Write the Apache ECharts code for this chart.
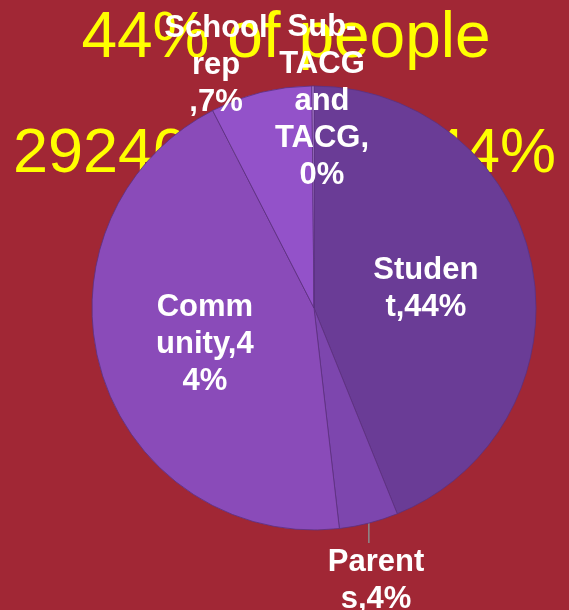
<!DOCTYPE html>
<html>
<head>
<meta charset="utf-8">
<script src="https://cdn.jsdelivr.net/npm/echarts@6/dist/echarts.min.js"></script>
<style>
  html, body { margin: 0; padding: 0; background: #a12735; }
  .main { width: 569px; height: 610px; }
</style>
</head>
<body>
<div class="main"></div>
<script>
// slice data (percent of respondents)
var names = ['Student', 'Parents', 'Community', 'School rep', 'Sub-TACG and TACG'];
var values = [43.9, 4.3, 44.3, 7.4, 0.15];
var colors = ['#6a3c96', '#7d46ae', '#8a4bb9', '#9352c9', '#b48ad8'];
// label texts as wrapped in the original
var labelTexts = ['Studen\nt,44%', 'Parent\ns,4%', 'Comm\nunity,4\n4%', 'School\nrep\n,7%', 'Sub-\nTACG\nand\nTACG,\n0%'];
var headline = '44% of people';
var subline = '29240 people, 44%';

// where the outside labels sit (center of text block)
var outsidePos = { 1: [376, 581], 3: [216, 65], 4: [322, 101] };

var myChart = echarts.init(document.querySelector('.main'));

var data = names.map(function (n, i) {
  var outside = outsidePos[i] !== undefined;
  return {
    name: n,
    value: values[i],
    itemStyle: { color: colors[i] },
    label: { position: outside ? 'outside' : 'inside' },
    labelLine: { show: i === 1, length: 10, length2: 0 }
  };
});

var option = {
  backgroundColor: '#a12735',
  animation: false,
  graphic: [
    {
      type: 'text', z: -10,
      style: {
        text: headline, x: 286, y: 71,
        textAlign: 'center', textVerticalAlign: 'bottom',
        font: '64px "Liberation Sans", Arial, sans-serif',
        fill: '#ffff00'
      }
    },
    {
      type: 'text', z: -10,
      style: {
        text: subline, x: 13, y: 186,
        textAlign: 'left', textVerticalAlign: 'bottom',
        font: '63px "Liberation Sans", Arial, sans-serif',
        fill: '#ffff00'
      }
    }
  ],
  series: [{
    type: 'pie',
    center: [314, 308],
    radius: 222,
    startAngle: 90,
    clockwise: true,
    avoidLabelOverlap: false,
    itemStyle: { borderColor: '#5a3180', borderWidth: 0.8 },
    label: {
      color: '#ffffff',
      fontFamily: '"Liberation Sans", Arial, sans-serif',
      fontWeight: 'bold',
      fontSize: 31,
      lineHeight: 37,
      align: 'center',
      formatter: function (p) { return labelTexts[p.dataIndex]; }
    },
    labelLine: { lineStyle: { color: '#8c8c8c', width: 1.5 } },
    labelLayout: function (params) {
      var pos = outsidePos[params.dataIndex];
      if (!pos) return { dy: 3 };
      var res = { x: pos[0], y: pos[1], align: 'center', verticalAlign: 'middle' };
      if (params.dataIndex === 1 && params.labelLinePoints) {
        var p0 = params.labelLinePoints[0];
        res.labelLinePoints = [[p0[0], p0[1]], [p0[0], p0[1] + 20]];
      }
      return res;
    },
    data: data
  }]
};
myChart.setOption(option);
</script>
</body>
</html>
